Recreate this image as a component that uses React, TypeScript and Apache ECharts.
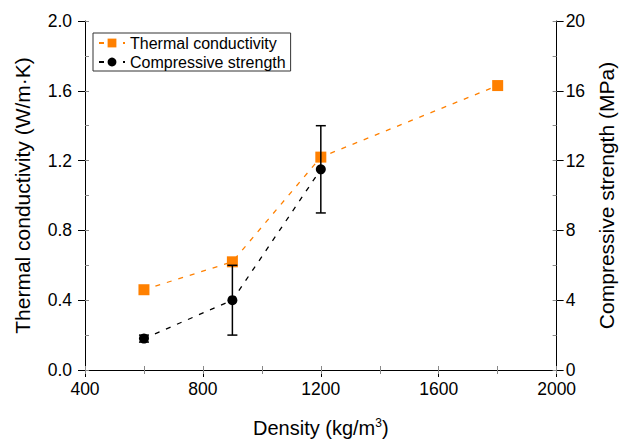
import React, { useEffect, useRef } from "react";
import * as echarts from "echarts";

const density = [600, 900, 1200, 1800];
const thermal = [0.46, 0.62, 1.22, 1.63];
const strengthDensity = [600, 900, 1200];
const strength = [1.8, 4.0, 11.5];
const strengthErr = [0.2, 2.0, 2.5];

const FONT = "Liberation Sans, Arial, sans-serif";

export default function App() {
  const ref = useRef<HTMLDivElement>(null);
  useEffect(() => {
    if (!ref.current) return;
    const chart = echarts.init(ref.current, undefined, { renderer: "svg" });
    const errData = strengthDensity.map((x, i) => [x, strength[i] - strengthErr[i], strength[i] + strengthErr[i]]);
    const axisCommon = {
      axisLine: { show: true, lineStyle: { color: "#000", width: 1 } },
      axisTick: { show: true, length: 7, lineStyle: { color: "#000" } },
      axisLabel: { color: "#000", fontSize: 17.5, fontFamily: FONT, margin: 10 },
      splitLine: { show: false },
      nameTextStyle: { color: "#000", fontSize: 21, fontFamily: FONT },
    };
    const minorAxis = {
      type: "value",
      axisLine: { show: false },
      axisTick: { show: true, inside: true, length: 4, lineStyle: { color: "#888" } },
      axisLabel: { show: false },
      splitLine: { show: false },
    };
    chart.setOption({
      animation: false,
      textStyle: { fontFamily: FONT },
      grid: { left: 85, right: 63, top: 21, bottom: 68, containLabel: false },
      legend: {
        orient: "vertical",
        left: 93,
        top: 33,
        borderColor: "#333",
        borderWidth: 1,
        padding: [2, 5, 1, 5],
        itemGap: 3,
        itemWidth: 26,
        itemHeight: 11,
        textStyle: { fontSize: 16, color: "#000", fontFamily: FONT },
        data: ["Thermal conductivity", "Compressive strength"],
      },
      xAxis: [
        {
          ...axisCommon,
          type: "value",
          min: 400,
          max: 2000,
          interval: 400,
          axisLabel: { ...axisCommon.axisLabel, formatter: (v: number) => String(v) },
          name: "Density (kg/m{sup|3})",
          nameLocation: "middle",
          nameGap: 47,
          nameTextStyle: {
            color: "#000",
            fontSize: 20,
            fontFamily: FONT,
            rich: { sup: { fontSize: 12, verticalAlign: "top", padding: [0, 0, 10, 0], color: "#000", fontFamily: FONT } },
          },
        },
        {
          ...minorAxis,
          position: "top",
          min: 400,
          max: 2000,
          interval: 200,
          axisLine: { show: true, lineStyle: { color: "#000" } },
        },
        {
          ...minorAxis,
          position: "bottom",
          min: 400,
          max: 2000,
          interval: 200,
        },
      ],
      yAxis: [
        {
          ...axisCommon,
          type: "value",
          min: 0,
          max: 2.0,
          interval: 0.4,
          axisLabel: { ...axisCommon.axisLabel, margin: 13, formatter: (v: number) => v.toFixed(1) },
          name: "Thermal conductivity (W/m·K)",
          nameLocation: "middle",
          nameGap: 52,
        },
        {
          ...axisCommon,
          type: "value",
          position: "right",
          min: 0,
          max: 20,
          interval: 4,
          axisLabel: { ...axisCommon.axisLabel, margin: 9 },
          name: "Compressive strength (MPa)",
          nameLocation: "middle",
          nameGap: 35,
        },
        {
          ...minorAxis,
          position: "left",
          min: 0,
          max: 2.0,
          interval: 0.2,
        },
        {
          ...minorAxis,
          position: "right",
          min: 0,
          max: 20,
          interval: 2,
        },
      ],
      series: [
        {
          name: "Thermal conductivity",
          type: "line",
          yAxisIndex: 0,
          data: density.map((x, i) => [x, thermal[i]]),
          symbol: "rect",
          symbolSize: 11,
          itemStyle: { color: "#FF8000" },
          lineStyle: { color: "#FF8000", type: [5, 7], width: 1.3 },
          z: 3,
        },
        {
          name: "Compressive strength errors",
          type: "custom",
          yAxisIndex: 1,
          data: errData,
          renderItem: (params: any, api: any) => {
            const x = api.value(0);
            const lo = api.coord([x, api.value(1)]);
            const hi = api.coord([x, api.value(2)]);
            const w = 5;
            const style = { stroke: "#000", lineWidth: 1.5 };
            return {
              type: "group",
              children: [
                { type: "line", shape: { x1: lo[0], y1: lo[1], x2: hi[0], y2: hi[1] }, style },
                { type: "line", shape: { x1: lo[0] - w, y1: lo[1], x2: lo[0] + w, y2: lo[1] }, style },
                { type: "line", shape: { x1: hi[0] - w, y1: hi[1], x2: hi[0] + w, y2: hi[1] }, style },
              ],
            };
          },
          z: 4,
        },
        {
          name: "Compressive strength",
          type: "line",
          yAxisIndex: 1,
          data: strengthDensity.map((x, i) => [x, strength[i]]),
          symbol: "circle",
          symbolSize: 10,
          itemStyle: { color: "#000" },
          lineStyle: { color: "#000", type: [5, 7], width: 1.3 },
          z: 5,
        },
      ],
    });
    return () => chart.dispose();
  }, []);
  return <div ref={ref} style={{ width: 625, height: 443, position: "absolute", left: 0, top: 0, background: "#fff" }} />;
}
